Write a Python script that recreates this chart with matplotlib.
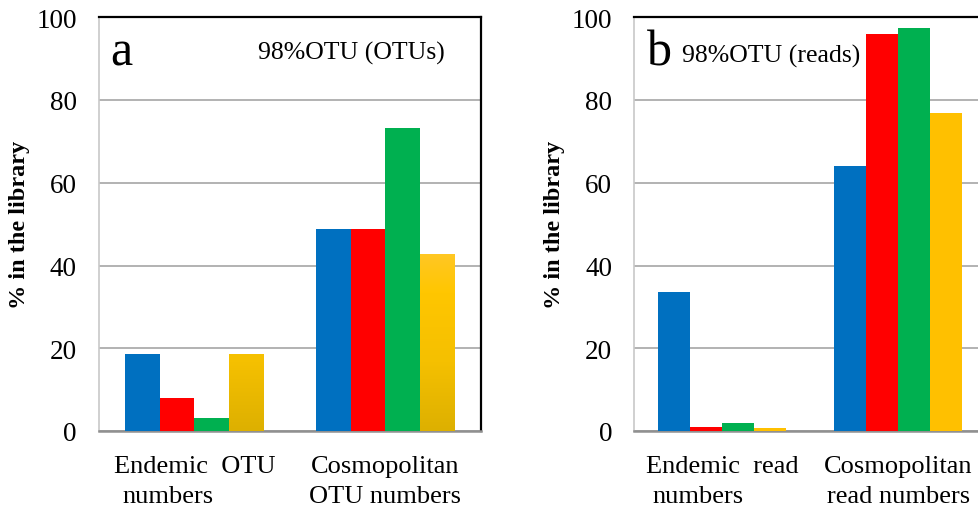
import numpy as np
import matplotlib
matplotlib.use("Agg")
import matplotlib.pyplot as plt
from matplotlib.colors import LinearSegmentedColormap

plt.rcParams['font.family'] = ['Liberation Serif', 'DejaVu Serif']

# ---- data ----
categories_a = ["Endemic  OTU\nnumbers", "Cosmopolitan\nOTU numbers"]
categories_b = ["Endemic  read\nnumbers", "Cosmopolitan\nread numbers"]
series_colors = ["#0070C0", "#FF0000", "#00B050", "#FFC000"]
otus_a = [
    [18.6, 48.8],   # blue
    [8.0, 48.8],    # red
    [3.1, 73.2],    # green
    [18.6, 42.9],   # yellow
]
reads_b = [
    [33.7, 64.0],
    [0.9, 95.9],
    [1.9, 97.3],
    [0.8, 76.9],
]
yticks = [0, 20, 40, 60, 80, 100]
title_a = "98%OTU (OTUs)"
title_b = "98%OTU (reads)"

W, H = 979, 510
fig = plt.figure(figsize=(W / 100, H / 100), dpi=100)

ax_a = fig.add_axes([99 / W, 1 - 432 / H, 382 / W, 413.75 / H])
ax_b = fig.add_axes([634.3 / W, 1 - 432 / H, 352 / W, 413.75 / H])

group_w = 0.728
bw = group_w / 4
x = np.arange(2)

yellow_cmap = LinearSegmentedColormap.from_list(
    "yg", ["#DDB000", "#F5C000", "#FFC600", "#FFC840"])


def draw(ax, data, cats, letter, title, letter_x, title_x, title_y, gradient):
    for i, (vals, col) in enumerate(zip(data, series_colors)):
        pos = x + (i - 1.5) * bw
        bars = ax.bar(pos, vals, width=bw, color=col, zorder=3, linewidth=0)
        if gradient and i == 3:
            for b in bars:
                bx = b.get_x()
                bwid = b.get_width()
                grad = np.linspace(0, 1, 256).reshape(-1, 1)
                im = ax.imshow(grad, cmap=yellow_cmap, aspect='auto',
                               extent=[bx, bx + bwid, 0, 50], origin='lower',
                               zorder=3.5, vmin=0, vmax=1)
                im.set_clip_path(b)
    ax.set_xlim(-0.5, 1.5)
    ax.set_ylim(0, 100)
    ax.set_yticks(yticks)
    ax.set_xticks([])
    ax.tick_params(axis='y', length=0, pad=16, labelsize=19.5)
    ax.yaxis.grid(True, color="#A6A6A6", linewidth=1.2, zorder=0)
    ax.set_axisbelow(True)
    for s in ['top', 'right']:
        ax.spines[s].set_color('black')
        ax.spines[s].set_linewidth(1.6)
    ax.spines['left'].set_color('#C8C8C8')
    ax.spines['left'].set_linewidth(1.2)
    ax.spines['bottom'].set_color('#909090')
    ax.spines['bottom'].set_linewidth(1.8)
    ax.set_ylabel("% in the library", fontsize=17.5, fontweight='bold')
    ax.text(letter_x, 0.887, letter, transform=ax.transAxes, fontsize=36,
            va='baseline', ha='left')
    ax.text(title_x, title_y, title, transform=ax.transAxes, fontsize=18.5,
            va='baseline', ha='left')
    tr = ax.get_xaxis_transform()
    l1a, l2a = cats[0].split("\n")
    l1b, l2b = cats[1].split("\n")
    ax.text(0.0, -0.0991, l1a, transform=tr, ha='center', va='baseline', fontsize=19)
    ax.text(-0.14, -0.1716, l2a, transform=tr, ha='center', va='baseline', fontsize=19)
    ax.text(1.0, -0.0991, l1b, transform=tr, ha='center', va='baseline', fontsize=19)
    ax.text(1.0, -0.1716, l2b, transform=tr, ha='center', va='baseline', fontsize=19)


draw(ax_a, otus_a, categories_a, "a", title_a, 0.029, 0.416, 0.899, True)
draw(ax_b, reads_b, categories_b, "b", title_b, 0.036, 0.135, 0.894, False)
ax_a.yaxis.set_label_coords(-0.181, 0.5)
ax_b.yaxis.set_label_coords(-0.197, 0.5)

fig.savefig("out.png", dpi=100)
